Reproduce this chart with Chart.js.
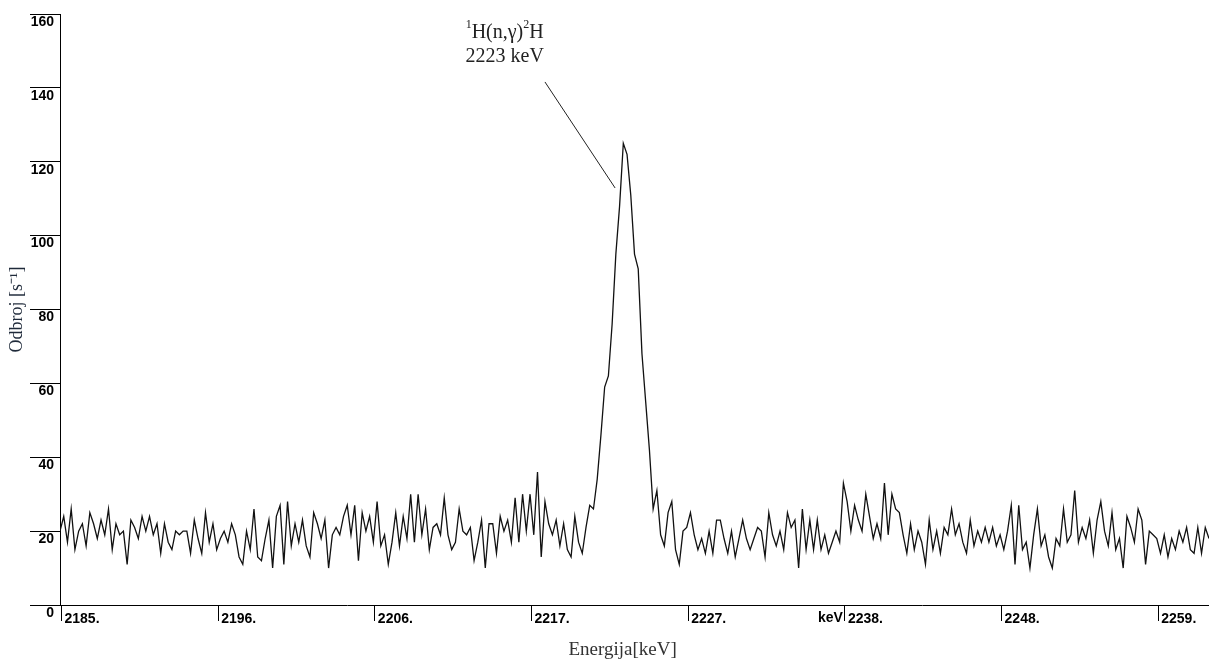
<!DOCTYPE html>
<html lang="sr">
<head>
  <meta charset="UTF-8">
  <title>Odbroj – 2223 keV</title>
  <script src="https://cdn.jsdelivr.net/npm/chart.js"></script>
  <style>
    body {
      margin: 0;
      padding: 0;
      background: #ffffff;
    }
    .wrap {
      width: 1209px;
      height: 661px;
      position: relative;
    }
  </style>
</head>
<body>
  <div class="wrap">
    <canvas id="spectrum"></canvas>
  </div>
  <script>
    // kalibracija kanala
    const startEnergy = 2185.2;
    const keVPerChannel = 0.25;

    // odbroj po kanalima [s^-1]
    const counts = [
      20, 24, 17, 26, 15, 20, 22, 16, 25, 22, 18, 23, 19, 26, 15, 22, 19, 20, 11, 23,
      21, 18, 24, 20, 24, 19, 22, 14, 22, 17, 15, 20, 19, 20,
      20, 14, 23, 18, 14, 25, 17, 22, 15, 18, 20, 17, 22, 19, 13, 11, 20, 15, 26, 13,
      12, 18, 23, 10, 24, 27, 11, 28, 16, 22, 17, 23, 16, 13,
      25, 22, 18, 23, 10, 19, 21, 19, 24, 27, 19, 27, 12, 25, 20, 24, 17, 28, 16, 19,
      11, 17, 25, 16, 24, 18, 30, 17, 30, 19, 26, 15, 21,
      22, 19, 29, 19, 15, 17, 26, 20, 19, 21, 12, 17, 23, 10, 22, 22, 14, 24, 20, 23,
      17, 29, 17, 30, 20, 30, 19, 36, 13, 28, 22, 19, 23, 16, 22, 15, 13, 24, 17, 14,
      21, 27,
      26, 34, 46, 59, 62, 76, 95, 108, 125, 122, 111, 95, 91, 68, 55, 42, 26, 31, 19, 16,
      25, 28, 15, 11,
      20, 21, 25, 19, 15, 18, 14, 20, 14, 23, 23, 18, 14, 20, 13, 18, 23, 18, 15, 18,
      21, 20, 13, 25, 19, 16, 20, 15, 25, 21, 23, 10, 26, 15, 23,
      15, 23, 15, 19, 14, 17, 20, 17, 33, 28, 20, 27, 23, 20, 30, 24, 18, 22, 18, 33,
      19, 30, 26, 25, 19, 14, 22, 15, 20, 17, 11, 23, 15, 20, 14, 21,
      19, 26, 19, 22, 17, 14, 23, 16, 20, 17, 21, 17, 21, 16, 19, 15, 20, 27, 11, 27,
      15, 17, 10, 19, 26, 16, 19, 13, 10, 18, 16, 26, 17, 19, 31, 17,
      21, 18, 23, 14, 23, 28, 20, 16, 25, 15, 18, 10, 24, 21, 17, 26, 23, 11, 20, 19,
      18, 14, 19, 13, 18, 15, 20, 17, 21, 15, 14, 21, 14, 21, 18
    ];

    // oznake na x osi [keV]
    const energyTicks = [2185.3, 2195.8, 2206.3, 2216.8, 2227.3, 2237.8, 2248.3, 2258.8];
    const countTicks = [0, 20, 40, 60, 80, 100, 120, 140, 160];

    const peakNote = {
      lines: ['1H(n,γ)2H', '2223 keV'],
      textEnergy: 2215.0,
      textCounts: [154.8, 148.3],
      from: { x: 2217.7, y: 141.6 },
      to: { x: 2222.4, y: 112.9 }
    };

    const points = counts.map((c, i) => ({ x: startEnergy + i * keVPerChannel, y: c }));

    const tickFont = { family: "'Liberation Sans', Arial, sans-serif", size: 14, weight: 'bold' };
    const serif = "'Liberation Serif', 'Times New Roman', serif";

    const notePlugin = {
      id: 'note',
      afterDraw(chart) {
        const ctx = chart.ctx;
        const xs = chart.scales.x;
        const ys = chart.scales.y;
        ctx.save();
        // linija do pika
        ctx.strokeStyle = '#222';
        ctx.lineWidth = 1;
        ctx.beginPath();
        ctx.moveTo(xs.getPixelForValue(peakNote.from.x), ys.getPixelForValue(peakNote.from.y));
        ctx.lineTo(xs.getPixelForValue(peakNote.to.x), ys.getPixelForValue(peakNote.to.y));
        ctx.stroke();

        // tekst: 1H(n,γ)2H sa eksponentima
        const cx = xs.getPixelForValue(peakNote.textEnergy);
        const y1 = ys.getPixelForValue(peakNote.textCounts[0]);
        const y2 = ys.getPixelForValue(peakNote.textCounts[1]);
        const big = '20px ' + serif;
        const small = '12px ' + serif;
        const parts = [['1', small, -8], ['H(n,γ)', big, 0], ['2', small, -8], ['H', big, 0]];
        let total = 0;
        parts.forEach(p => { ctx.font = p[1]; total += ctx.measureText(p[0]).width; });
        let px = cx - total / 2;
        ctx.fillStyle = '#222';
        ctx.textBaseline = 'middle';
        ctx.textAlign = 'left';
        parts.forEach(p => {
          ctx.font = p[1];
          ctx.fillText(p[0], px, y1 + p[2]);
          px += ctx.measureText(p[0]).width;
        });
        ctx.font = big;
        ctx.textAlign = 'center';
        ctx.fillText(peakNote.lines[1], cx, y2);

        // "keV" ispred oznake 2238.
        ctx.font = 'bold 14px ' + tickFont.family;
        ctx.textAlign = 'right';
        ctx.textBaseline = 'top';
        ctx.fillStyle = '#000';
        ctx.fillText('keV', xs.getPixelForValue(energyTicks[5]) - 2, xs.top + 6);
        ctx.restore();
      }
    };

    new Chart(document.getElementById('spectrum'), {
      type: 'line',
      data: {
        datasets: [{
          data: points,
          borderColor: '#111',
          borderWidth: 1.3,
          pointRadius: 0,
          tension: 0,
          fill: false
        }]
      },
      options: {
        responsive: true,
        maintainAspectRatio: false,
        animation: false,
        layout: { padding: { top: 14, right: 0, left: 0, bottom: 0 } },
        plugins: {
          legend: { display: false },
          tooltip: { enabled: false }
        },
        scales: {
          x: {
            type: 'linear',
            min: startEnergy,
            max: startEnergy + (counts.length - 1) * keVPerChannel,
            afterBuildTicks(scale) {
              scale.ticks = energyTicks.map(v => ({ value: v }));
            },
            afterFit(scale) { scale.height = 56; },
            border: { display: true, color: '#000', width: 1 },
            grid: { drawOnChartArea: false, color: '#000', tickLength: 16, tickWidth: 1 },
            ticks: {
              align: 'start',
              labelOffset: 3,
              padding: -10,
              maxRotation: 0,
              autoSkip: false,
              color: '#000',
              font: tickFont,
              callback: v => Math.round(v) + '.'
            },
            title: {
              display: true,
              text: 'Energija[keV]\u00a0\u00a0\u00a0\u00a0\u00a0',
              color: '#333',
              font: { family: serif, size: 19 },
              padding: { top: 0, bottom: 0 }
            }
          },
          y: {
            min: 0,
            max: 160,
            afterBuildTicks(scale) {
              scale.ticks = countTicks.map(v => ({ value: v }));
            },
            afterFit(scale) { scale.width = 60; },
            border: { display: true, color: '#000', width: 1 },
            grid: { drawOnChartArea: false, color: '#000', tickLength: 30, tickWidth: 1 },
            ticks: {
              labelOffset: 8,
              padding: -24,
              color: '#000',
              font: { family: "'Liberation Sans', Arial, sans-serif", size: 14, weight: 'bold' }
            },
            title: {
              display: true,
              text: 'Odbroj [s⁻¹]',
              color: '#1f2a3a',
              font: { family: serif, size: 18 },
              padding: { top: 6, bottom: 0 }
            }
          }
        }
      },
      plugins: [notePlugin]
    });
  </script>
</body>
</html>
